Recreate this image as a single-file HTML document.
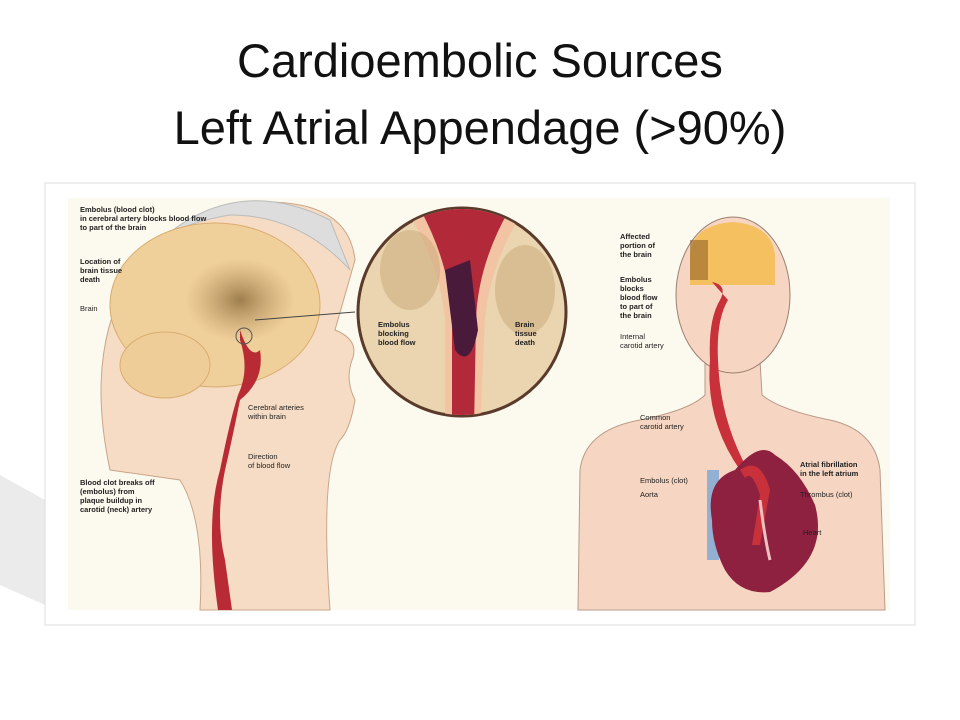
<!DOCTYPE html>
<html><head><meta charset="utf-8"><style>
body{margin:0;width:960px;height:720px;background:#fff;overflow:hidden;font-family:"Liberation Sans",sans-serif;}
.t{position:absolute;left:0;width:960px;text-align:center;font-size:47px;color:#111;}
</style></head><body>
<div class="t" style="top:33px">Cardioembolic Sources</div>
<div class="t" style="top:100px">Left Atrial Appendage (&gt;90%)</div>
<svg width="960" height="720" style="position:absolute;left:0;top:0" font-family="Liberation Sans, sans-serif" font-weight="bold" font-size="7.5" fill="#222">
<defs>
<radialGradient id="dk" cx="0.5" cy="0.5" r="0.5"><stop offset="0" stop-color="#8a6a3a" stop-opacity=".8"/><stop offset="1" stop-color="#b08a5a" stop-opacity="0"/></radialGradient>
<clipPath id="cc"><circle cx="462" cy="312" r="103"/></clipPath>
</defs>
<polygon points="0,475 45,500 45,605 0,585" fill="#ebebeb"/>
<rect x="45" y="183" width="870" height="442" fill="#fff" stroke="#ddd"/>
<rect x="68" y="198" width="822" height="412" fill="#fcf9ee"/>
<!-- left head -->
<path d="M110,470 Q80,330 150,250 Q220,190 300,205 Q350,215 355,260 L335,330 Q360,340 352,360 Q345,380 355,400 Q350,430 340,440 Q320,470 330,610 L200,610 Q205,520 180,480 Z" fill="#f6dcc4" stroke="#c9a58a"/>
<path d="M150,250 Q230,170 330,220 L350,270 Q300,215 230,215 Q170,225 150,250Z" fill="#ddd" stroke="#bbb"/>
<ellipse cx="215" cy="305" rx="105" ry="82" fill="#f0d09a" stroke="#d9ad70"/>
<ellipse cx="165" cy="365" rx="45" ry="33" fill="#efcd98" stroke="#d9ad70"/>
<ellipse cx="240" cy="300" rx="55" ry="42" fill="url(#dk)"/>
<path d="M240,330 Q250,360 260,350 Q265,380 240,400 Q232,440 225,470 Q215,520 225,560 L232,610 L218,610 Q205,520 220,470 Q230,420 238,395 Q250,370 240,340Z" fill="#b82b35"/>
<circle cx="244" cy="336" r="8" fill="none" stroke="#555"/>
<!-- circle inset -->
<circle cx="462" cy="312" r="104" fill="#ead5b0" stroke="#5a3a2a" stroke-width="3"/>
<g clip-path="url(#cc)">
<path d="M400,200 Q440,260 445,320 L445,430 L480,430 L485,320 Q490,260 530,200Z" fill="#f2c4a4"/>
<path d="M415,200 Q450,260 452,320 L452,430 L474,430 L476,320 Q478,260 515,200Z" fill="#b22a3a"/>
<path d="M445,270 L470,260 L478,330 Q470,370 455,350Z" fill="#4a1a3a"/>
<ellipse cx="410" cy="270" rx="30" ry="40" fill="#c8a878" opacity=".5"/>
<ellipse cx="525" cy="290" rx="30" ry="45" fill="#c8a878" opacity=".5"/>
</g>
<line x1="255" y1="320" x2="355" y2="312" stroke="#444"/>
<!-- right body -->
<path d="M578,610 L580,470 Q585,430 640,420 Q690,410 705,395 L705,360 L760,360 L762,395 Q780,410 830,420 Q875,430 880,470 L885,610Z" fill="#f6d6c2" stroke="#b89a88"/>
<ellipse cx="733" cy="295" rx="57" ry="78" fill="#f6d6c2" stroke="#9a8070"/>
<path d="M690,255 Q692,225 733,222 Q772,225 775,255 L775,285 L690,285Z" fill="#f4c060"/>
<rect x="690" y="240" width="18" height="40" fill="#8a5a20" opacity=".55"/>
<path d="M712,282 Q728,285 720,300 Q708,320 710,360 Q705,420 740,470 L748,470 Q720,420 718,360 Q716,320 728,300Z" fill="#c8303a"/>
<rect x="707" y="470" width="12" height="90" fill="#6a9ed8" opacity=".7"/>
<path d="M712,520 Q705,480 735,470 Q760,440 775,455 Q800,470 815,505 Q830,560 770,592 Q740,595 725,570 Q712,545 712,520Z" fill="#8e2040"/>
<path d="M740,470 Q760,455 770,490 L760,545 L752,545 L760,495 Q752,470 745,478Z" fill="#c8303a"/>
<path d="M760,500 Q765,540 770,560" stroke="#f0c0c0" stroke-width="3" fill="none"/>
<!-- labels -->
<text x="80" y="212">Embolus (blood clot)</text><text x="80" y="221">in cerebral artery blocks blood flow</text><text x="80" y="230">to part of the brain</text>
<text x="80" y="264">Location of</text><text x="80" y="273">brain tissue</text><text x="80" y="282">death</text>
<text x="80" y="311" font-weight="normal">Brain</text>
<text x="248" y="410" font-weight="normal">Cerebral arteries</text><text x="248" y="419" font-weight="normal">within brain</text>
<text x="248" y="459" font-weight="normal">Direction</text><text x="248" y="468" font-weight="normal">of blood flow</text>
<text x="80" y="485">Blood clot breaks off</text><text x="80" y="494">(embolus) from</text><text x="80" y="503">plaque buildup in</text><text x="80" y="512">carotid (neck) artery</text>
<text x="378" y="327">Embolus</text><text x="378" y="336">blocking</text><text x="378" y="345">blood flow</text>
<text x="515" y="327">Brain</text><text x="515" y="336">tissue</text><text x="515" y="345">death</text>
<text x="620" y="239">Affected</text><text x="620" y="248">portion of</text><text x="620" y="257">the brain</text>
<text x="620" y="282">Embolus</text><text x="620" y="291">blocks</text><text x="620" y="300">blood flow</text><text x="620" y="309">to part of</text><text x="620" y="318">the brain</text>
<text x="620" y="339" font-weight="normal">Internal</text><text x="620" y="348" font-weight="normal">carotid artery</text>
<text x="640" y="420" font-weight="normal">Common</text><text x="640" y="429" font-weight="normal">carotid artery</text>
<text x="640" y="483" font-weight="normal">Embolus (clot)</text><text x="640" y="497" font-weight="normal">Aorta</text>
<text x="800" y="467">Atrial fibrillation</text><text x="800" y="476">in the left atrium</text>
<text x="800" y="497" font-weight="normal">Thrombus (clot)</text><text x="803" y="535" font-weight="normal">Heart</text>
</svg>
</body></html>
